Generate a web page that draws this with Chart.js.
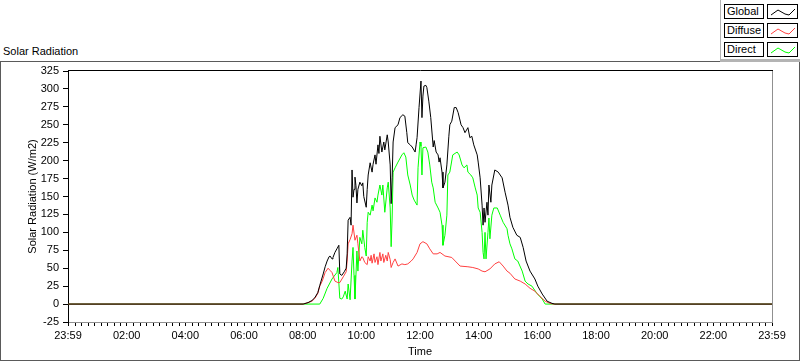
<!DOCTYPE html>
<html>
<head>
<meta charset="utf-8">
<script src="https://cdn.jsdelivr.net/npm/chart.js@4.4.1/dist/chart.umd.min.js"></script>
<style>
  html, body { margin: 0; padding: 0; background: #fff; }
  #wrap { position: relative; width: 800px; height: 361px; overflow: hidden; font-family: "Liberation Sans", Arial, sans-serif; font-size: 11px; color: #000; }
  #frame { position: absolute; left: 0; top: 61px; width: 800px; height: 300px; box-sizing: border-box; border: 1px solid #5a5a5a; }
  #title { position: absolute; left: 3px; top: 45px; white-space: nowrap; }
  #legendArea { position: absolute; left: 720px; top: 0; width: 80px; height: 62px; box-sizing: border-box; border-left: 1px solid #b4b4b4; border-bottom: 3px solid #b4b4b4; background: #fff; }
  .lbl { position: absolute; left: 724px; width: 40px; height: 15px; box-sizing: border-box; border: 1px solid #000; padding-left: 2px; line-height: 13px; white-space: nowrap; background: #fff; }
  .smp { position: absolute; left: 767px; width: 31px; height: 15px; box-sizing: border-box; border: 1px solid #000; background: #fff; }
  .smp svg { position: absolute; left: 0; top: 0; }
  canvas { position: absolute; left: 0; top: 0; }
</style>
</head>
<body>
<div id="wrap">
  <div id="frame"></div>
  <div id="title">Solar Radiation</div>
  <div id="legendArea"></div>
  <canvas id="c" width="800" height="361"></canvas>
</div>
<script>
// ---- data (minutes after midnight, W/m2) ----
const seriesNames = ['Global', 'Diffuse', 'Direct'];
const seriesColors = ['#000000', '#ff4040', '#00ff00'];

const globalTimes = [0, 481, 491, 499, 505, 511, 515, 522, 526, 530, 534, 536, 540, 542, 546, 550, 554, 556, 560, 565, 569, 571, 573, 577, 579, 581, 583, 585, 587, 589, 591, 593, 597, 601, 603, 605, 610, 612, 614, 618, 622, 624, 628, 630, 634, 636, 638, 642, 646, 648, 653, 655, 659, 661, 663, 665, 669, 675, 679, 685, 689, 693, 695, 700, 704, 710, 712, 714, 718, 722, 724, 726, 728, 732, 734, 738, 742, 747, 749, 753, 757, 759, 761, 765, 767, 771, 775, 779, 781, 785, 790, 794, 798, 804, 808, 812, 818, 822, 826, 830, 837, 839, 843, 847, 849, 851, 853, 857, 859, 861, 865, 867, 873, 880, 888, 894, 900, 904, 910, 918, 925, 931, 937, 945, 955, 961, 970, 980, 990, 996, 1440];
const globalValues = [0, 0, 2, 5, 9, 16, 26, 42, 52, 60, 66, 67, 63, 65, 72, 77, 82, 42, 40, 45, 50, 70, 117, 121, 110, 187, 149, 160, 177, 165, 141, 160, 170, 165, 169, 150, 135, 160, 180, 197, 184, 195, 208, 195, 222, 210, 234, 212, 226, 215, 236, 226, 194, 140, 176, 226, 246, 250, 260, 264, 262, 239, 225, 222, 219, 212, 222, 232, 274, 311, 260, 290, 304, 305, 302, 283, 260, 219, 228, 212, 208, 198, 204, 184, 162, 170, 194, 234, 250, 255, 274, 274, 267, 250, 246, 239, 246, 232, 234, 222, 208, 198, 176, 138, 110, 134, 114, 142, 124, 166, 142, 166, 187, 184, 176, 156, 138, 121, 107, 96, 93, 79, 60, 46, 35, 25, 14, 4, 1, 0, 0];

const diffuseTimes = [0, 481, 491, 499, 505, 511, 515, 520, 526, 532, 536, 540, 546, 552, 556, 563, 569, 571, 573, 577, 581, 583, 587, 591, 593, 597, 601, 603, 607, 612, 614, 618, 620, 622, 626, 628, 632, 634, 638, 640, 644, 646, 650, 653, 655, 659, 661, 665, 669, 675, 683, 689, 695, 702, 706, 714, 720, 726, 734, 740, 747, 755, 761, 771, 785, 792, 802, 818, 828, 839, 847, 853, 863, 873, 882, 890, 898, 904, 914, 925, 935, 945, 955, 965, 976, 986, 992, 1440];
const diffuseValues = [0, 0, 2, 4, 8, 15, 25, 32, 44, 50, 47, 44, 32, 30, 30, 38, 45, 60, 84, 90, 98, 110, 89, 96, 84, 60, 66, 65, 58, 55, 66, 60, 68, 57, 70, 58, 66, 55, 72, 60, 70, 58, 68, 60, 72, 62, 51, 58, 63, 53, 56, 55, 56, 60, 63, 72, 84, 87, 84, 77, 70, 70, 72, 67, 65, 60, 53, 52, 51, 49, 46, 45, 49, 56, 59, 53, 46, 43, 35, 32, 28, 22, 18, 11, 4, 1, 0, 0];

const directTimes = [0, 515, 522, 530, 540, 550, 552, 556, 560, 563, 567, 571, 573, 577, 581, 583, 585, 587, 591, 593, 597, 601, 603, 607, 610, 612, 614, 618, 622, 624, 628, 632, 634, 638, 642, 644, 648, 653, 655, 659, 661, 663, 665, 669, 675, 683, 687, 691, 695, 700, 704, 708, 714, 716, 720, 722, 724, 726, 732, 736, 740, 744, 747, 751, 757, 761, 765, 767, 771, 775, 777, 781, 787, 796, 800, 806, 810, 816, 818, 824, 828, 833, 837, 839, 843, 847, 849, 851, 853, 855, 859, 861, 863, 867, 871, 878, 884, 890, 898, 900, 904, 908, 914, 920, 929, 935, 941, 949, 959, 970, 976, 1440];
const directValues = [0, 0, 8, 22, 35, 44, 51, 8, 7, 10, 18, 7, 28, 6, 60, 79, 40, 7, 74, 46, 93, 84, 103, 79, 67, 114, 128, 124, 138, 130, 148, 142, 152, 166, 152, 166, 128, 162, 170, 134, 80, 120, 184, 190, 198, 208, 211, 205, 180, 166, 152, 145, 138, 190, 226, 220, 180, 218, 219, 212, 194, 170, 162, 142, 134, 128, 110, 82, 96, 124, 180, 184, 208, 212, 208, 194, 190, 194, 184, 180, 176, 162, 152, 134, 128, 100, 72, 63, 100, 63, 100, 120, 91, 124, 134, 134, 124, 114, 105, 96, 84, 77, 63, 60, 46, 32, 28, 25, 15, 7, 0, 0];

const xTickMinutes = [0, 120, 240, 360, 480, 600, 720, 840, 960, 1080, 1200, 1320, 1440];
const xTickLabels = ['23:59', '02:00', '04:00', '06:00', '08:00', '10:00', '12:00', '14:00', '16:00', '18:00', '20:00', '22:00', '23:59'];
const yTickValues = [-25, 0, 25, 50, 75, 100, 125, 150, 175, 200, 225, 250, 275, 300, 325];
const minorIntervals = 9;

// ---- legend (HTML) ----
const legendTops = [4, 23, 42];
const samplePts = '3,10 10,5 17,9 21,10 27,4';
const wrap = document.getElementById('wrap');
seriesNames.forEach((name, i) => {
  const l = document.createElement('div');
  l.className = 'lbl'; l.style.top = legendTops[i] + 'px'; l.textContent = name;
  const s = document.createElement('div');
  s.className = 'smp'; s.style.top = legendTops[i] + 'px';
  s.innerHTML = '<svg width="29" height="13"><polyline points="' + samplePts + '" fill="none" stroke="' + seriesColors[i] + '" stroke-width="1"/></svg>';
  wrap.appendChild(l); wrap.appendChild(s);
});

function pairs(t, v) { return t.map((x, i) => ({ x: x, y: v[i] })); }

const font = { family: '"Liberation Sans", Arial, sans-serif', size: 11 };

const framePlugin = {
  id: 'frame',
  afterDraw(chart) {
    const { ctx, chartArea: a } = chart;
    const xs = chart.scales.x;
    ctx.save();
    ctx.lineWidth = 1;
    ctx.strokeStyle = '#000';
    ctx.beginPath(); ctx.moveTo(a.left, Math.round(a.top) - 0.5); ctx.lineTo(Math.round(a.right) + 1, Math.round(a.top) - 0.5); ctx.stroke();
    ctx.strokeStyle = '#909090';
    ctx.beginPath(); ctx.moveTo(Math.round(a.right) + 0.5, Math.round(a.top)); ctx.lineTo(Math.round(a.right) + 0.5, Math.round(a.bottom) + 1); ctx.stroke();
    ctx.strokeStyle = '#000';
    ctx.beginPath();
    for (let k = 0; k < xTickMinutes.length - 1; k++) {
      const step = (xTickMinutes[k + 1] - xTickMinutes[k]) / minorIntervals;
      for (let j = 1; j < minorIntervals; j++) {
        const px = Math.round(xs.getPixelForValue(xTickMinutes[k] + j * step)) + 0.5;
        ctx.moveTo(px, Math.round(a.bottom) + 1);
        ctx.lineTo(px, Math.round(a.bottom) + 4);
      }
    }
    ctx.stroke();
    ctx.restore();
  }
};

new Chart(document.getElementById('c'), {
  type: 'line',
  data: {
    datasets: [
      { label: seriesNames[0], data: pairs(globalTimes, globalValues), borderColor: seriesColors[0] },
      { label: seriesNames[1], data: pairs(diffuseTimes, diffuseValues), borderColor: seriesColors[1] },
      { label: seriesNames[2], data: pairs(directTimes, directValues), borderColor: seriesColors[2] }
    ]
  },
  options: {
    responsive: false,
    animation: false,
    events: [],
    elements: { line: { borderWidth: 1, tension: 0 }, point: { radius: 0 } },
    layout: { padding: { top: 71, right: 28, left: 0, bottom: 0 } },
    plugins: { legend: { display: false }, tooltip: { enabled: false }, title: { display: false } },
    scales: {
      x: {
        type: 'linear', min: 0, max: 1440,
        afterFit(s) { s.height = 39; },
        afterBuildTicks(s) { s.ticks = xTickMinutes.map(v => ({ value: v })); },
        ticks: { autoSkip: false, maxRotation: 0, font: font, color: '#000', padding: 3,
          callback: (v) => xTickLabels[xTickMinutes.indexOf(v)] },
        grid: { drawOnChartArea: false, tickLength: 4, tickColor: '#000' },
        border: { color: '#909090' },
        title: { display: true, text: 'Time', font: font, color: '#000', padding: { top: 0, bottom: 2 } }
      },
      y: {
        min: -25, max: 325,
        afterFit(s) { s.width = 68; },
        afterBuildTicks(s) { s.ticks = yTickValues.map(v => ({ value: v })); },
        ticks: { font: font, color: '#000', padding: 4 },
        grid: { drawOnChartArea: false, tickLength: 5, tickColor: '#000' },
        border: { color: '#000' },
        title: { display: true, text: 'Solar Radiation (W/m2)', font: font, color: '#000', padding: { top: 26 } }
      }
    }
  },
  plugins: [framePlugin]
});
</script>
</body>
</html>
